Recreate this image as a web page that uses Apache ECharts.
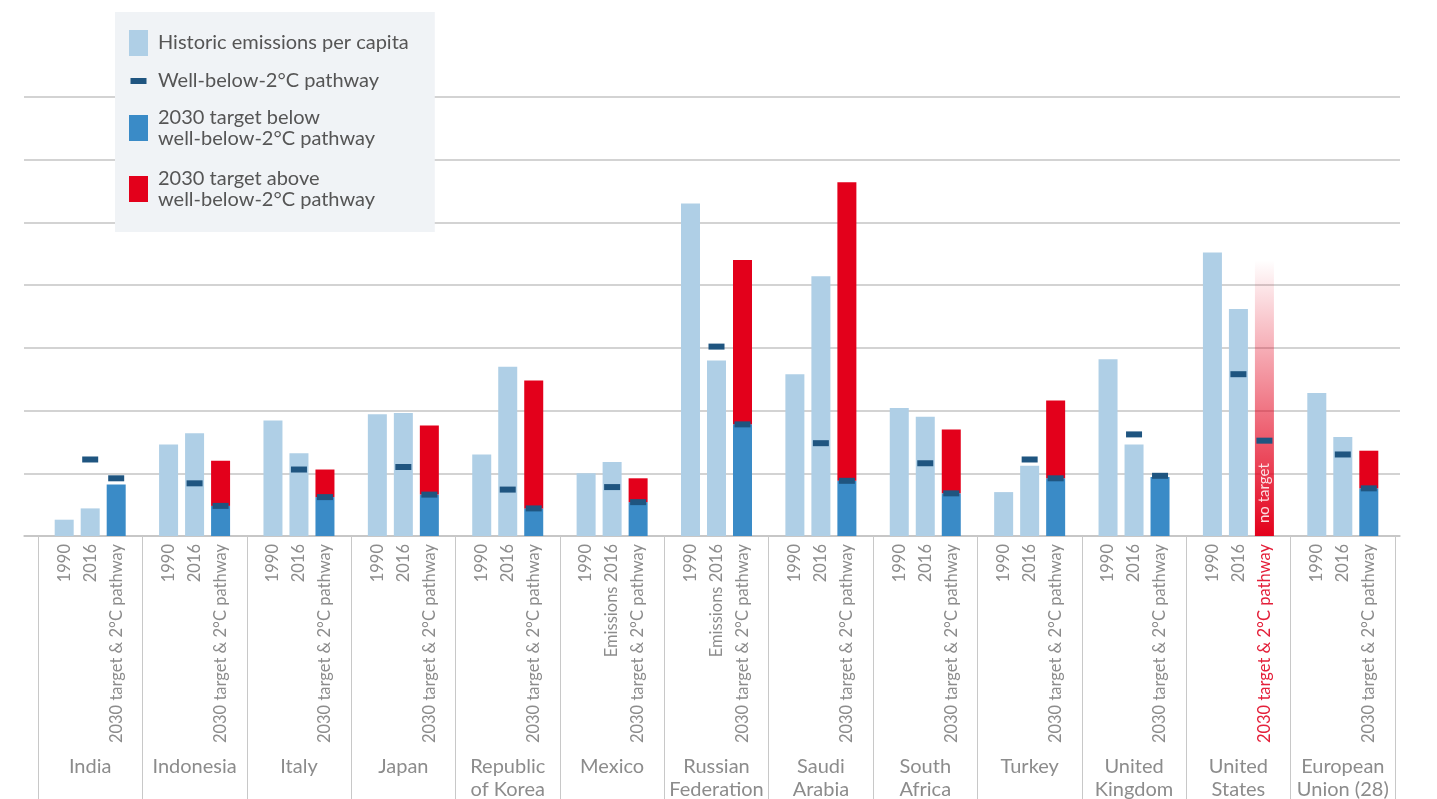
<!DOCTYPE html>
<html><head><meta charset="utf-8">
<script src="https://cdn.jsdelivr.net/npm/echarts@6/dist/echarts.min.js"></script>
<style>html,body{margin:0;padding:0;background:#fff;overflow:hidden}#c{width:1437px;height:799px}</style>
</head><body><div id="c"></div>
<script>
// ---- data (tCO2e per capita) ----
const countries = ['India','Indonesia','Italy','Japan','Republic\nof Korea','Mexico','Russian\nFederation','Saudi\nArabia','South\nAfrica','Turkey','United\nKingdom','United\nStates','European\nUnion (28)'];
const emissions1990 = [1.3, 7.3, 9.2, 9.7, 6.5, 5.0, 26.5, 12.9, 10.2, 3.5, 14.1, 22.6, 11.4];
const emissions2016 = [2.2, 8.2, 6.6, 9.8, 13.5, 5.9, 14.0, 20.7, 9.5, 5.6, 7.3, 18.1, 7.9];
const target2030   = [4.1, 6.0, 5.3, 8.8, 12.4, 4.6, 22.0, 28.2, 8.5, 10.8, 4.7, null, 6.8];
const pathway2016  = [6.1, 4.2, 5.3, 5.5, 3.7, 3.9, 15.1, 7.4, 5.8, 6.1, 8.1, 12.9, 6.5];
const pathway2030  = [4.6, 2.4, 3.1, 3.3, 2.2, 2.7, 8.9, 4.4, 3.4, 4.6, 4.8, 7.6, 3.8];
const noTargetFadeTop = 22;
const label1990 = countries.map(() => '1990');
const label2016 = ['2016','2016','2016','2016','2016','Emissions 2016','Emissions 2016','2016','2016','2016','2016','2016','2016'];
const label2030 = countries.map(() => '2030 target & 2°C pathway');
const yTicks = [0, 5, 10, 15, 20, 25, 30, 35];

// ---- styles ----
const FONT = 'Lato, "Noto Sans", sans-serif';
const LIGHT = '#afcfe6', BLUE = '#3a8bc7', RED = '#e3001b', MARK = '#1f5580', GRIDC = '#c4c4c4', TXT = '#8c8c8c';
const BAR_W = 19, BAR_GAP = 7, STEP = BAR_W + BAR_GAP;

const NAME_HIST = 'Historic emissions per capita';
const NAME_PATH = 'Well-below-2°C pathway';
const NAME_BELOW = '2030 target below\nwell-below-2°C pathway';
const NAME_ABOVE = '2030 target above\nwell-below-2°C pathway';

const blueData = target2030.map((t, i) => t == null ? 0 : Math.min(t, pathway2030[i]));
const redData = target2030.map((t, i) => {
  if (t == null) {
    return {
      value: noTargetFadeTop,
      itemStyle: { color: { type: 'linear', x: 0, y: 0, x2: 0, y2: 1,
        colorStops: [{ offset: 0, color: 'rgba(227,0,27,0)' }, { offset: 1, color: 'rgba(227,0,27,1)' }] } },
      label: { show: true, position: 'insideBottom', rotate: 90, align: 'left', verticalAlign: 'middle',
        distance: 13, formatter: 'no target', color: 'rgba(255,255,255,0.85)', fontFamily: FONT, fontSize: 15 }
    };
  }
  return t > pathway2030[i] ? +(t - pathway2030[i]).toFixed(2) : null;
});

const subLabels = [];
const subRows = [];
countries.forEach((c, i) => {
  [label1990[i], label2016[i], label2030[i]].forEach((txt, k) => {
    subRows.push([i, k]);
    subLabels.push({ text: txt, red: (k === 2 && target2030[i] == null) });
  });
});

const chart = echarts.init(document.getElementById('c'));
chart.setOption({
  animation: false,
  backgroundColor: '#fff',
  grid: [
    { left: 38, right: 42, top: 97, bottom: 263, containLabel: false, outerBoundsMode: 'none' },
    { left: 24, right: 37, top: 97, bottom: 263, containLabel: false, outerBoundsMode: 'none' }
  ],
  legend: {
    left: 115, top: 12, orient: 'vertical', backgroundColor: '#f0f3f6',
    padding: [18, 26, 16, 14], itemGap: 12, itemWidth: 19, itemHeight: 26, selectedMode: false,
    textStyle: { fontFamily: FONT, fontSize: 20, color: '#555', lineHeight: 21, padding: [2, 0, 0, 5] },
    data: [
      { name: NAME_HIST, icon: 'rect' },
      { name: NAME_PATH, icon: 'path://M0,0M1.5,10L17.5,10L17.5,16L1.5,16ZM19,26' },
      { name: NAME_BELOW, icon: 'rect' },
      { name: NAME_ABOVE, icon: 'rect', textStyle: { padding: [7, 0, 5, 5] } }
    ]
  },
  xAxis: [
    { type: 'category', gridIndex: 0, data: countries, boundaryGap: true,
      axisLine: { show: false },
      axisTick: { show: true, length: 263, lineStyle: { color: '#c8c8c8', width: 1 } },
      axisLabel: { interval: 0, margin: 219, fontFamily: FONT, fontSize: 20, color: TXT, lineHeight: 23 },
      splitLine: { show: false } },
    { type: 'value', gridIndex: 1, min: 0, max: 1,
      axisLine: { show: true, onZero: false, lineStyle: { color: GRIDC, width: 1.5 } },
      axisTick: { show: false }, axisLabel: { show: false }, splitLine: { show: false } }
  ],
  yAxis: [
    { type: 'value', gridIndex: 0, min: yTicks[0], max: yTicks[yTicks.length - 1], interval: 5,
      axisLine: { show: false }, axisTick: { show: false }, axisLabel: { show: false }, splitLine: { show: false } },
    { type: 'value', gridIndex: 1, min: yTicks[0], max: yTicks[yTicks.length - 1], interval: 5,
      axisLine: { show: false }, axisTick: { show: false }, axisLabel: { show: false },
      splitLine: { show: true, lineStyle: { color: GRIDC, width: 1.5 } } }
  ],
  series: [
    { type: 'bar', name: NAME_HIST, xAxisIndex: 0, yAxisIndex: 0, data: emissions1990,
      barWidth: BAR_W, barGap: (BAR_GAP / BAR_W * 100) + '%', itemStyle: { color: LIGHT } },
    { type: 'bar', name: NAME_HIST, xAxisIndex: 0, yAxisIndex: 0, data: emissions2016,
      barWidth: BAR_W, barGap: (BAR_GAP / BAR_W * 100) + '%', itemStyle: { color: LIGHT } },
    { type: 'bar', name: NAME_BELOW, xAxisIndex: 0, yAxisIndex: 0, data: blueData, stack: 't2030',
      barWidth: BAR_W, barGap: (BAR_GAP / BAR_W * 100) + '%', itemStyle: { color: BLUE } },
    { type: 'bar', name: NAME_ABOVE, xAxisIndex: 0, yAxisIndex: 0, data: redData, stack: 't2030',
      barWidth: BAR_W, barGap: (BAR_GAP / BAR_W * 100) + '%', itemStyle: { color: RED } },
    { type: 'scatter', name: NAME_PATH, xAxisIndex: 0, yAxisIndex: 0, data: pathway2016, z: 5,
      symbol: 'rect', symbolSize: [16, 6], symbolOffset: [0, 0], itemStyle: { color: MARK, opacity: 1 } },
    { type: 'scatter', name: NAME_PATH, xAxisIndex: 0, yAxisIndex: 0, data: pathway2030, z: 5,
      symbol: 'rect', symbolSize: [16, 6], symbolOffset: [STEP, 0], itemStyle: { color: MARK, opacity: 1 } },
    { type: 'custom', xAxisIndex: 0, yAxisIndex: 0, data: subRows, silent: true, clip: false, z: 5,
      encode: { x: 0, y: 1 },
      renderItem: function (params, api) {
        const i = api.value(0), k = api.value(1);
        const p = api.coord([i, 0]);
        const info = subLabels[params.dataIndex];
        return {
          type: 'text', x: p[0] + (k - 1) * STEP, y: p[1] + 8, rotation: Math.PI / 2,
          style: { text: info.text, fill: info.red ? '#e4203a' : TXT, fontFamily: FONT, fontSize: 16.5,
            align: 'right', verticalAlign: 'middle' }
        };
      } }
  ]
});
</script></body></html>
